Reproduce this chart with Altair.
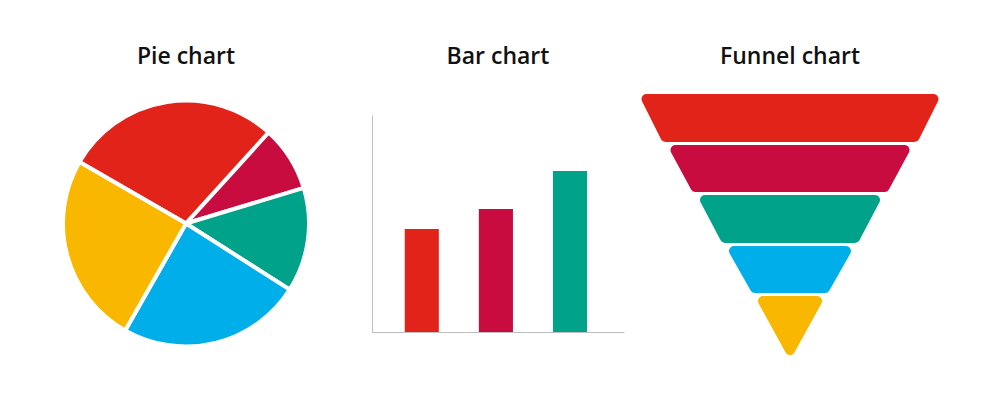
import math
import altair as alt
import pandas as pd

# ---------------- data ----------------
pie_names = ["Segment A", "Segment B", "Segment C", "Segment D", "Segment E"]
pie_values = [28.4, 8.6, 13.7, 24.2, 25.1]
pie_colors = ["#E2231A", "#C90C3F", "#00A28A", "#00AEEA", "#F9B700"]
pie_start_deg = 300

bar_names = ["A", "B", "C"]
bar_values = [47.5, 56.7, 74.2]
bar_colors = ["#E2231A", "#C90C3F", "#00A28A"]

funnel_stages = ["Stage 1", "Stage 2", "Stage 3", "Stage 4", "Stage 5"]
funnel_top_width = [297, 239, 180, 122, 64]
funnel_bottom_width = [259, 199, 140, 80, 0]
funnel_depth = [48, 47, 48, 47, 59]
funnel_colors = ["#E2231A", "#C90C3F", "#00A28A", "#00AEEA", "#F9B700"]

FONT = "Open Sans"
TITLE_COLOR = "#111111"

def title(text, offset):
    # Vega places a title above the content bounds of its panel, so each
    # panel gets the offset that lines the three titles up.
    return alt.TitleParams(text=text, fontSize=23, font=FONT, fontWeight=600,
                           color=TITLE_COLOR, offset=offset, anchor="middle")

PIE_R = 123
PLOT_H = 217

# ---------------- pie ----------------
pie_df = pd.DataFrame({"name": pie_names, "value": pie_values,
                       "idx": list(range(len(pie_names)))})
start = math.radians(pie_start_deg)
pie = alt.Chart(pie_df).mark_arc(outerRadius=PIE_R, stroke="white", strokeWidth=4).encode(
    theta=alt.Theta("value:Q", stack=True, scale=alt.Scale(range=[start, start + 2 * math.pi])),
    color=alt.Color("name:N", scale=alt.Scale(domain=pie_names, range=pie_colors), legend=None),
    order=alt.Order("idx:Q"),
).properties(width=342, height=PLOT_H, title=title("Pie chart", 23.5))

# ---------------- bar ----------------
bar_df = pd.DataFrame({"name": bar_names, "value": bar_values})
axis_style = dict(labels=False, ticks=False, title=None, grid=False,
                  domainColor="#bdbdbd", domainWidth=1, minExtent=0, maxExtent=0)
bar = alt.Chart(bar_df).mark_bar().encode(
    x=alt.X("name:N", sort=bar_names,
            scale=alt.Scale(paddingInner=0.54, paddingOuter=0.47, align=0.47),
            axis=alt.Axis(**axis_style)),
    y=alt.Y("value:Q", scale=alt.Scale(domain=[0, 100]), axis=alt.Axis(**axis_style)),
    color=alt.Color("name:N", scale=alt.Scale(domain=bar_names, range=bar_colors), legend=None),
).properties(width=252, height=PLOT_H, title=title("Bar chart", 46))

# ---------------- funnel ----------------
ROUND = 5   # corner rounding produced by the round-joined outline
GAP = 3
rows = []
y0 = 0.0
for s, wt, wb, d in zip(funnel_stages, funnel_top_width, funnel_bottom_width, funnel_depth):
    ht = max(wt / 2 - ROUND, 0)
    hb = max(wb / 2 - ROUND, 0)
    rows.append({"stage": s, "y": y0 + ROUND, "xl": -ht, "xr": ht})
    rows.append({"stage": s, "y": y0 + d - ROUND, "xl": -hb, "xr": hb})
    y0 += d + GAP
total_depth = y0 - GAP
funnel_df = pd.DataFrame(rows)

# the funnel starts a little higher than the other two plot frames
FUNNEL_RISE = 21
funnel = alt.Chart(funnel_df).mark_area(
    orient="horizontal", strokeWidth=2 * ROUND, strokeJoin="round"
).encode(
    y=alt.Y("y:Q", scale=alt.Scale(domain=[FUNNEL_RISE, total_depth], reverse=True,
                                    nice=False, zero=False), axis=None),
    x=alt.X("xl:Q", scale=alt.Scale(domain=[-150, 150], nice=False), axis=None, stack=None),
    x2="xr:Q",
    color=alt.Color("stage:N", scale=alt.Scale(domain=funnel_stages, range=funnel_colors), legend=None),
    stroke=alt.Stroke("stage:N", scale=alt.Scale(domain=funnel_stages, range=funnel_colors), legend=None),
    detail="stage:N",
).properties(width=300, height=total_depth - FUNNEL_RISE, title=title("Funnel chart", 25))

chart = alt.hconcat(pie, bar, funnel, spacing=14).resolve_scale(
    color="independent", stroke="independent"
).properties(
    padding={"left": 7, "top": 37, "right": 5, "bottom": 5},
    background="white",
).configure_view(stroke="transparent")

chart.save("out.html", embed_options={"renderer": "svg", "actions": False})
